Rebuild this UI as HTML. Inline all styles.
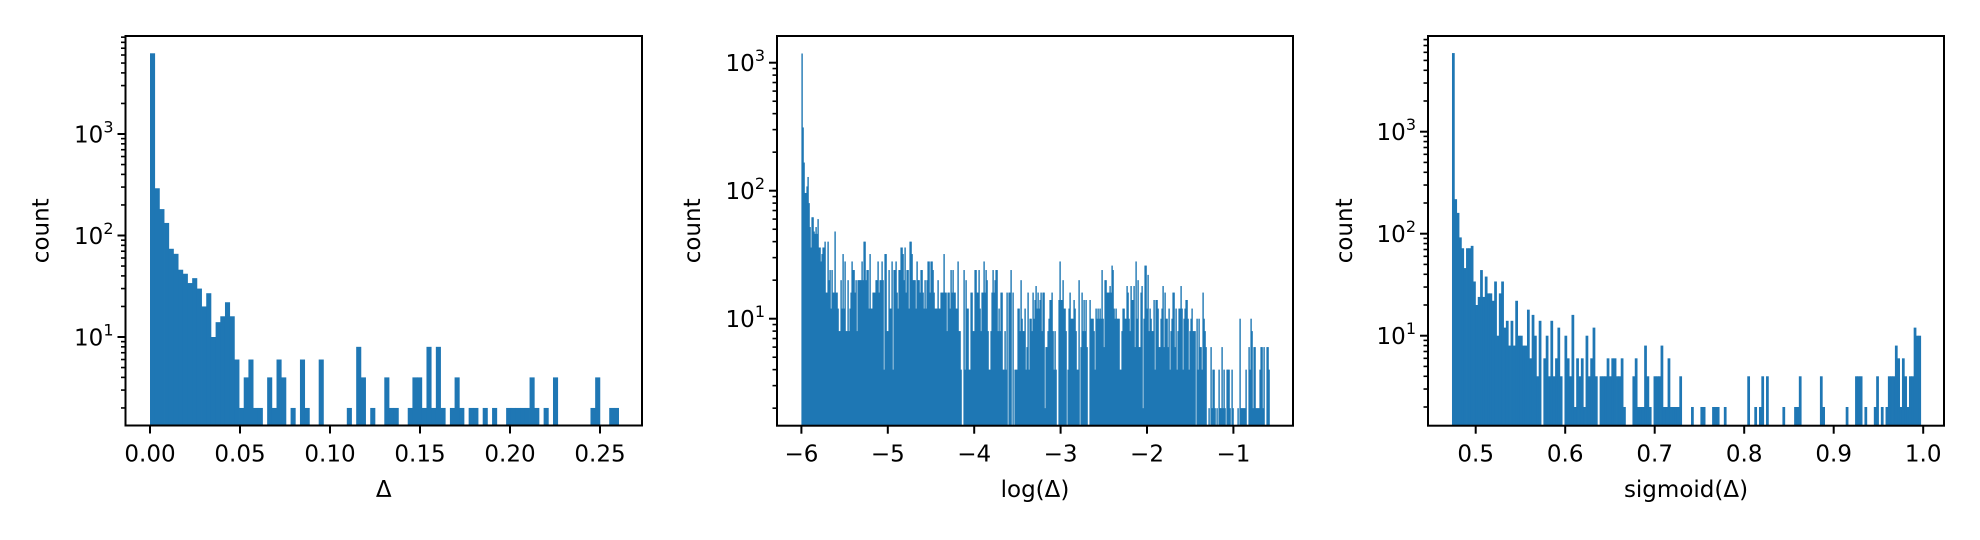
<!DOCTYPE html>
<html><head><meta charset="utf-8"><title>Histograms</title>
<style>
html,body{margin:0;padding:0;background:#fff;}
svg{display:block;font-family:"DejaVu Sans","Liberation Sans",sans-serif;}
</style></head>
<body>
<svg id="fig" width="1980" height="540" viewBox="0 0 1980 540" xmlns="http://www.w3.org/2000/svg"></svg>
<script>
const deltaCounts = [6240,292,182,133,74,66,46,42,34,38,30,20,27,10,14,16,22,16,
6,2,4,6,2,2,0,4,2,6,4,0,2,0,6,2,0,0,6,0,0,0,0,0,2,0,8,4,0,2,0,0,
4,2,2,0,0,2,4,4,2,8,2,8,2,0,2,4,2,0,2,2,0,2,0,2,0,0,2,2,2,2,
2,4,2,0,2,0,4,0,0,0,0,0,0,0,2,4,0,0,2,2];
const logCounts = [1180,312,166,96,96,108,128,80,52,36,
62,62,48,46,52,46,60,36,36,28,32,36,36,40,16,16,40,20,24,12,
24,16,16,48,16,16,12,8,8,20,12,32,12,28,8,8,20,8,12,16,
28,24,24,16,20,8,20,20,20,20,28,20,40,40,20,24,24,12,32,12,
12,16,16,16,20,20,28,16,20,20,28,20,4,32,32,8,8,24,12,12,
28,4,24,24,28,16,12,24,24,36,36,32,20,36,16,24,24,12,40,40,
32,20,20,20,12,28,20,20,16,24,24,16,12,20,12,20,28,28,16,28,
28,24,16,12,12,12,20,12,12,16,16,16,32,16,16,8,16,16,12,24,
16,24,16,16,12,12,28,
8,8,4,0,0,24,4,20,12,12,4,4,16,16,8,8,24,24,16,16,
24,12,8,16,16,28,16,24,20,8,4,4,8,16,24,16,20,24,24,8,
12,8,16,16,4,4,8,4,16,0,16,16,24,0,16,0,4,4,4,12,
12,8,20,10,8,8,12,4,6,16,4,10,10,8,16,10,14,18,12,16,
12,14,16,8,16,16,2,6,6,8,10,14,14,16,8,4,8,4,0,0,
14,28,14,14,20,12,12,8,0,4,12,16,10,10,10,14,12,8,4,4,
20,0,6,16,8,14,8,14,6,0,0,14,10,10,10,8,4,12,10,12,
10,12,10,24,10,6,20,20,16,16,16,18,16,26,24,12,10,12,10,10,
10,4,4,8,12,12,10,10,18,16,10,8,18,14,14,18,6,28,10,20,
6,6,16,18,2,10,26,26,12,22,8,12,10,8,8,14,4,14,14,12,
6,6,10,12,18,6,16,10,10,6,12,4,8,10,16,16,6,12,4,8,
12,12,18,12,4,10,12,14,14,10,4,8,10,12,8,8,8,0,10,4,
10,6,6,4,16,10,8,6,0,0,2,0,6,2,4,4,2,0,2,0,
4,2,2,6,2,4,2,0,4,4,4,2,0,4,2,0,0,0,0,2,
0,10,2,2,2,2,2,4,0,0,6,4,10,8,2,6,6,2,2,2,
2,4,6,6,2,6,0,0,6,6,4];
const sigCounts = [5900,218,160,92,72,46,72,72,76,34,20,24,44,24,38,26,26,22,34,10,
26,34,12,14,8,14,8,22,10,10,8,8,18,6,16,10,4,14,0,6,
10,4,14,4,6,12,4,0,10,6,4,16,2,6,4,6,2,10,4,6,
12,4,0,4,4,4,6,4,6,6,4,4,6,2,0,0,0,4,6,2,
2,2,8,4,2,0,4,4,4,8,2,2,6,2,2,2,2,4,0,0,
0,0,2,0,0,0,2,2,0,0,0,2,2,2,0,0,2,0,0,0,
0,0,0,0,0,0,4,0,0,2,0,2,4,0,4,0,0,0,0,0,
0,2,0,0,0,0,2,2,4,0,0,0,0,0,0,0,0,4,2,0,
0,0,0,0,0,0,0,0,2,0,0,0,4,4,4,0,2,0,0,0,
2,4,0,2,0,2,4,4,4,8,6,2,6,4,2,4,4,12,10,10];
const deltaTicks = [0,0.05,0.10,0.15,0.20,0.25];
const deltaTickLabels = ["0.00","0.05","0.10","0.15","0.20","0.25"];
const logTicks = [-6,-5,-4,-3,-2,-1];
const logTickLabels = ["\u22126","\u22125","\u22124","\u22123","\u22122","\u22121"];
const sigTicks = [0.5,0.6,0.7,0.8,0.9,1.0];
const sigTickLabels = ["0.5","0.6","0.7","0.8","0.9","1.0"];
const yDecades = [1,2,3];

const NS = "http://www.w3.org/2000/svg";
const svg = document.getElementById("fig");
const BAR = "#1f77b4";
function mk(tag, attrs, parent) {
  const e = document.createElementNS(NS, tag);
  for (const k in attrs) e.setAttribute(k, attrs[k]);
  parent.appendChild(e);
  return e;
}
const panels = [
  {id:"delta", counts:deltaCounts, ticks:deltaTicks, labels:deltaTickLabels, xlabel:"\u0394",
   left:125.5, right:642, top:36, bottom:425.5, x0:150, xZero:0, xScale:1800,
   binStart:0, binWidth:0.0026033, yRef:337, decade:101.5, ylabelX:41.5},
  {id:"log", counts:logCounts, ticks:logTicks, labels:logTickLabels, xlabel:"log(\u0394)",
   left:777, right:1293, top:36, bottom:425.7, x0:801.4, xZero:-6, xScale:86.4,
   binStart:-6, binWidth:1/86.4, yRef:318.7, decade:128, ylabelX:693},
  {id:"sigmoid", counts:sigCounts, ticks:sigTicks, labels:sigTickLabels, xlabel:"sigmoid(\u0394)",
   left:1428, right:1944, top:36, bottom:425.7, x0:1475.7, xZero:0.5, xScale:895,
   binStart:0.4735, binWidth:0.0026185, yRef:335.7, decade:102, ylabelX:1345}
];
panels.forEach(function(p){
  const xOf = v => p.x0 + (v - p.xZero) * p.xScale;
  const yOf = c => p.yRef - (Math.log10(c) - 1) * p.decade;
  const g = mk("g", {}, svg);
  
  
  const bars = mk("g", {}, g);
  
  
  p.counts.forEach(function(c, i){
    if (c <= 0) return;
    const y = Math.max(p.top, yOf(c));
    if (y >= p.bottom) return;
    const xa = xOf(p.binStart + i * p.binWidth);
    const xb = xOf(p.binStart + (i + 1) * p.binWidth);
    const r = mk("rect", {x:xa, y:y, width:(xb - xa) + 0.4, height:p.bottom - y, fill:BAR}, bars);
    
    
  });
  for (let d = 0; d <= 3; d++) {
    for (let m = 1; m <= 9; m++) {
      const c = m * Math.pow(10, d);
      const y = yOf(c);
      if (y < p.top - 0.5 || y > p.bottom + 0.5) continue;
      const len = m === 1 ? 8 : 4.5;
      const t = mk("line", {x1:p.left - len, x2:p.left, y1:y, y2:y, stroke:"#000", "stroke-width":m === 1 ? 2 : 1.6}, g);
      
      
    }
  }
  yDecades.forEach(function(d){
    const y = yOf(Math.pow(10, d));
    const tx = mk("text", {x:p.left - 12, y:y + 8.3, "text-anchor":"end", "font-size":23, fill:"#000"}, g);
    
    
    tx.appendChild(document.createTextNode("10"));
    const sup = mk("tspan", {dy:-10, "font-size":16}, tx);
    sup.textContent = String(d);
  });
  p.ticks.forEach(function(v, i){
    const x = xOf(v);
    const t = mk("line", {x1:x, x2:x, y1:p.bottom, y2:p.bottom + 8, stroke:"#000", "stroke-width":2}, g);
    
    
    const tx = mk("text", {x:x, y:461.5, "text-anchor":"middle", "font-size":23, fill:"#000"}, g);
    
    
    tx.textContent = p.labels[i];
  });
  const fr = mk("rect", {x:p.left, y:p.top, width:p.right - p.left, height:p.bottom - p.top, fill:"none", stroke:"#000", "stroke-width":2}, g);
  
  
  const xl = mk("text", {x:(p.left + p.right) / 2, y:497, "text-anchor":"middle", "font-size":23, fill:"#000"}, g);
  
  
  xl.textContent = p.xlabel;
  const cy = (p.top + p.bottom) / 2;
  const yl = mk("text", {x:p.ylabelX, y:cy, "text-anchor":"middle", "dominant-baseline":"central", "font-size":23, fill:"#000", transform:"rotate(-90 " + p.ylabelX + " " + cy + ")"}, g);
  
  
  yl.textContent = "count";
});
</script>
</body></html>
